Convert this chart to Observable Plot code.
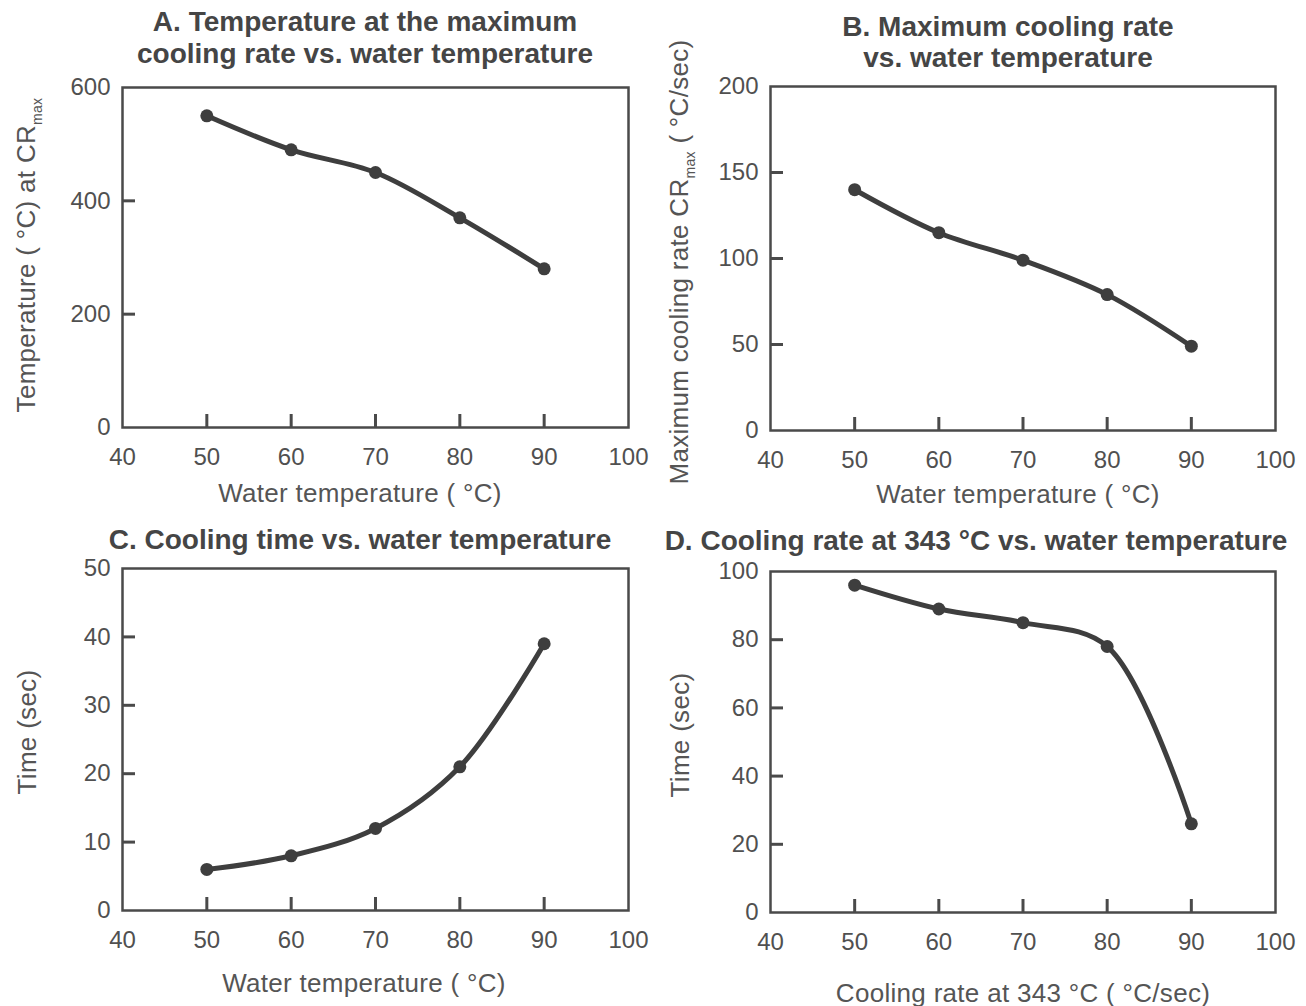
<!DOCTYPE html>
<html><head><meta charset="utf-8">
<script src="https://cdn.jsdelivr.net/npm/d3@7"></script>
<script src="https://cdn.jsdelivr.net/npm/@observablehq/plot@0.6"></script>
<style>
body{margin:0;background:#fff;}
#wrap{position:relative;width:1306px;height:1006px;overflow:hidden;font-family:"Liberation Sans",Arial,sans-serif;color:#505050;background:#fff;}
.panel{position:absolute;}
.title{position:absolute;width:700px;font-family:"Liberation Sans",Arial,sans-serif;font-weight:bold;font-size:28px;color:#454545;text-align:center;line-height:32px;white-space:nowrap;}
.lab{position:absolute;font-size:26px;letter-spacing:0.3px;color:#555;white-space:nowrap;transform:translate(-50%,-50%);}
.ylab{position:absolute;font-size:26px;letter-spacing:0.3px;color:#555;white-space:nowrap;transform:translate(-50%,-50%) rotate(-90deg);}
.lab sub,.ylab sub{font-size:14px;}
</style></head>
<body><div id="wrap"></div>
<script>
// ---- data ----
const waterTemp = [50, 60, 70, 80, 90];
const tempAtCRmax = [550, 490, 450, 370, 280];      // A
const maxCoolingRate = [140, 115, 99, 79, 49];      // B
const coolingTime = [6, 8, 12, 21, 39];             // C
const coolingRate343 = [96, 89, 85, 78, 26];        // D
const xTicks = [40, 50, 60, 70, 80, 90, 100];
const xInnerTicks = [50, 60, 70, 80, 90];
const yTicksA = [0, 200, 400, 600];
const yTicksB = [0, 50, 100, 150, 200];
const yTicksC = [0, 10, 20, 30, 40, 50];
const yTicksD = [0, 20, 40, 60, 80, 100];
const titles = {
  A: ["A. Temperature at the maximum", "cooling rate vs. water temperature"],
  B: ["B. Maximum cooling rate", "vs. water temperature"],
  C: ["C. Cooling time vs. water temperature"],
  D: ["D. Cooling rate at 343 °C vs. water temperature"]
};
const xLabels = {
  A: "Water temperature ( °C)",
  B: "Water temperature ( °C)",
  C: "Water temperature ( °C)",
  D: "Cooling rate at 343 °C ( °C/sec)"
};
const yLabels = {
  A: "Temperature ( °C) at CR<sub>max</sub>",
  B: "Maximum cooling rate CR<sub>max</sub> ( °C/sec)",
  C: "Time (sec)",
  D: "Time (sec)"
};

const wrap = document.getElementById("wrap");
const INK = "#3e3e3e";
const FRAME = "#4a4a4a";

function panel(o) {
  const data = waterTemp.map((x, i) => ({x, y: o.values[i]}));
  const left = o.fl - 70, top = o.ft - 20;
  const width = (o.fr + 30) - left, height = (o.fb + 60) - top;
  const yMax = o.yTicks[o.yTicks.length - 1];
  const xDom = [xTicks[0], xTicks[xTicks.length - 1]];
  const chart = Plot.plot({
    width, height,
    marginLeft: o.fl - left, marginRight: left + width - o.fr,
    marginTop: o.ft - top, marginBottom: top + height - o.fb,
    style: {fontFamily: "'Liberation Sans', Arial, sans-serif", fontSize: "24px", color: "#505050", background: "transparent", overflow: "visible"},
    x: {domain: xDom},
    y: {domain: [0, yMax]},
    marks: [
      Plot.axisX(xTicks, {tickSize: 0, tickPadding: 20, label: null, fontSize: 24}),
      Plot.axisY(o.yTicks, {tickSize: 0, tickPadding: 12, label: null, fontSize: 24}),
      Plot.frame({stroke: FRAME, strokeWidth: 2.5}),
      Plot.axisX(xInnerTicks, {tickSize: -13, text: null, stroke: FRAME, strokeWidth: 3, label: null}),
      Plot.axisY(o.yTicks.slice(1, -1), {tickSize: -13, text: null, stroke: FRAME, strokeWidth: 3, label: null}),
      Plot.line(data, {x: "x", y: "y", curve: "catmull-rom", stroke: INK, strokeWidth: 5}),
      Plot.dot(data, {x: "x", y: "y", r: 6.5, fill: INK, stroke: "none"})
    ]
  });
  chart.classList.add("panel");
  chart.style.left = left + "px";
  chart.style.top = top + "px";
  wrap.appendChild(chart);

  o.title.forEach((t, i) => {
    const d = document.createElement("div");
    d.className = "title";
    d.textContent = t;
    d.style.left = (o.tx - 350) + "px";
    d.style.top = (o.ty[i] - 16) + "px";
    wrap.appendChild(d);
  });
  const xl = document.createElement("div");
  xl.className = "lab"; xl.innerHTML = o.xLabel;
  xl.style.left = o.xl[0] + "px"; xl.style.top = o.xl[1] + "px";
  wrap.appendChild(xl);
  const yl = document.createElement("div");
  yl.className = "ylab"; yl.innerHTML = o.yLabel;
  yl.style.left = o.yl[0] + "px"; yl.style.top = o.yl[1] + "px";
  wrap.appendChild(yl);
}

panel({values: tempAtCRmax, yTicks: yTicksA, fl: 122, fr: 628, ft: 87, fb: 427,
  title: titles.A, tx: 365, ty: [22, 54], xLabel: xLabels.A, xl: [360, 493], yLabel: yLabels.A, yl: [28, 255]});
panel({values: maxCoolingRate, yTicks: yTicksB, fl: 770, fr: 1275, ft: 86, fb: 430,
  title: titles.B, tx: 1008, ty: [27, 58], xLabel: xLabels.B, xl: [1018, 494], yLabel: yLabels.B, yl: [681, 262]});
panel({values: coolingTime, yTicks: yTicksC, fl: 122, fr: 628, ft: 568, fb: 910,
  title: titles.C, tx: 360, ty: [540], xLabel: xLabels.C, xl: [364, 983], yLabel: yLabels.C, yl: [27, 732]});
panel({values: coolingRate343, yTicks: yTicksD, fl: 770, fr: 1275, ft: 571, fb: 912,
  title: titles.D, tx: 976, ty: [541], xLabel: xLabels.D, xl: [1023, 993], yLabel: yLabels.D, yl: [680, 735]});
</script>
</body></html>
